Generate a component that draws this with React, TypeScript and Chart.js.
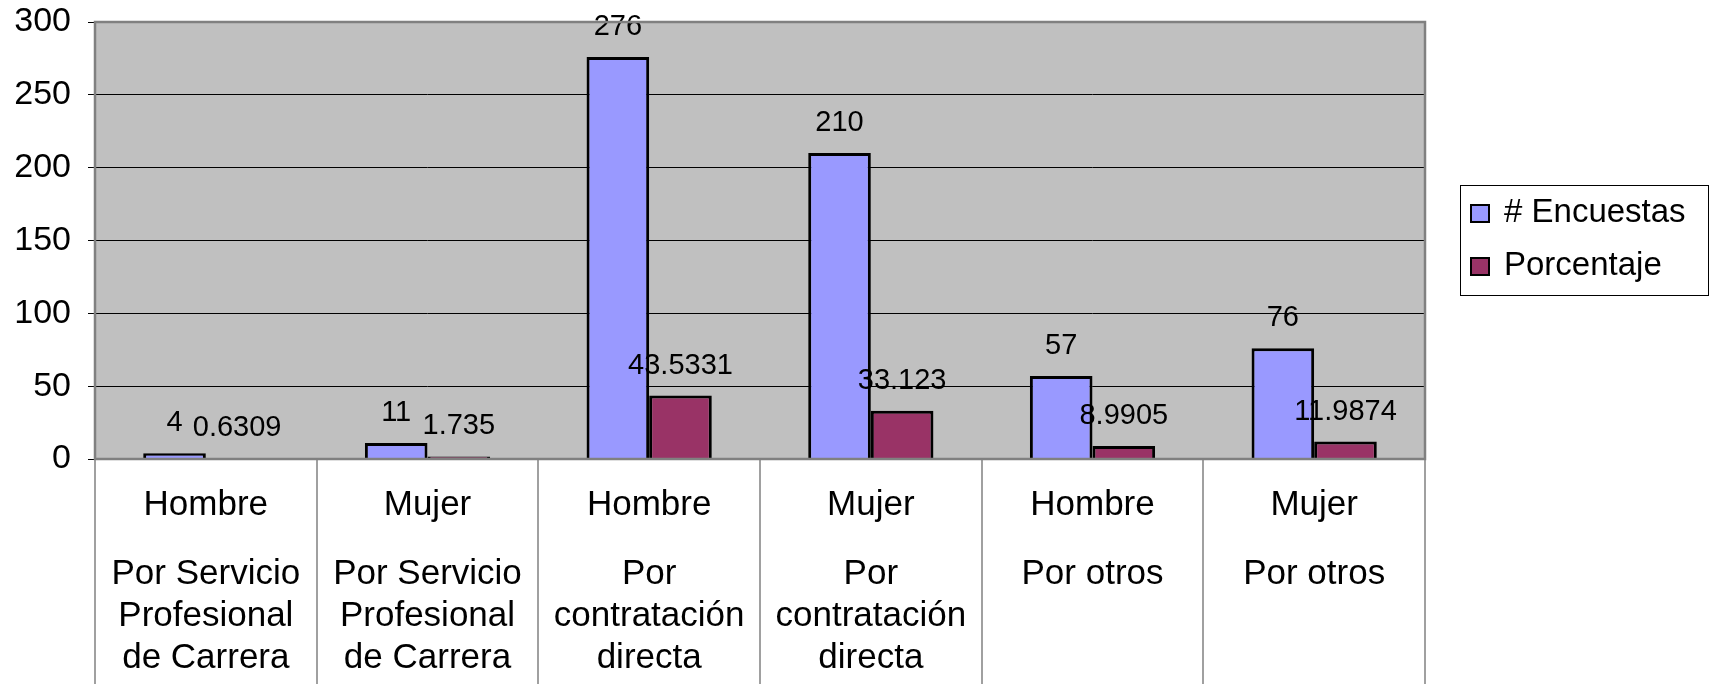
import React, { useEffect, useRef } from "react";
import { Chart, registerables } from "chart.js";

Chart.register(...registerables);

const genders = ["Hombre", "Mujer", "Hombre", "Mujer", "Hombre", "Mujer"];
const modalities = [
  ["Por Servicio", "Profesional", "de Carrera"],
  ["Por Servicio", "Profesional", "de Carrera"],
  ["Por", "contratación", "directa"],
  ["Por", "contratación", "directa"],
  ["Por otros"],
  ["Por otros"],
];
const encuestas = [4, 11, 276, 210, 57, 76];
const porcentaje = [0.6309, 1.735, 43.5331, 33.123, 8.9905, 11.9874];
const yTicks = [0, 50, 100, 150, 200, 250, 300];
const seriesNames = ["# Encuestas", "Porcentaje"];
const seriesColors = ["#9999FF", "#993366"];

const FONT = "'Liberation Sans', Arial, sans-serif";

const backgroundPlugin = {
  id: "plotBackground",
  beforeDraw(chart: any) {
    const { ctx, chartArea } = chart;
    ctx.save();
    ctx.fillStyle = "#C0C0C0";
    ctx.fillRect(chartArea.left, chartArea.top, chartArea.right - chartArea.left, chartArea.bottom - chartArea.top);
    ctx.restore();
  },
};

const dataLabelPlugin = {
  id: "dataLabels",
  afterDatasetsDraw(chart: any) {
    const { ctx } = chart;
    ctx.save();
    ctx.font = `29px ${FONT}`;
    ctx.fillStyle = "#000";
    ctx.textAlign = "center";
    ctx.textBaseline = "middle";
    chart.data.datasets.forEach((ds: any, di: number) => {
      const meta = chart.getDatasetMeta(di);
      meta.data.forEach((bar: any, i: number) => {
        ctx.fillText(String(ds.data[i]), bar.x, bar.y - 30);
      });
    });
    ctx.restore();
  },
};

const framePlugin = {
  id: "frame",
  afterDraw(chart: any) {
    const { ctx, chartArea } = chart;
    const xs = chart.scales.x;
    const h = chart.height;
    ctx.save();
    // category separators below the plot
    const n = xs.ticks.length;
    const step = n > 1 ? xs.getPixelForTick(1) - xs.getPixelForTick(0) : xs.width;
    ctx.strokeStyle = "#808080";
    ctx.lineWidth = 1.5;
    for (let k = 0; k <= n; k++) {
      const x = Math.round(xs.getPixelForTick(0) - step / 2 + k * step);
      ctx.beginPath();
      ctx.moveTo(x, chartArea.bottom);
      ctx.lineTo(x, h);
      ctx.stroke();
    }
    // plot border
    ctx.strokeStyle = "#808080";
    ctx.lineWidth = 2.5;
    ctx.strokeRect(chartArea.left, chartArea.top, chartArea.right - chartArea.left, chartArea.bottom - chartArea.top);

    // legend
    const lx = chartArea.right + 35;
    const ly = 185;
    const lw = 248;
    const lh = 110;
    ctx.strokeStyle = "#000";
    ctx.lineWidth = 1;
    ctx.strokeRect(lx + 0.5, ly + 0.5, lw, lh);
    ctx.font = `33px ${FONT}`;
    ctx.textAlign = "left";
    ctx.textBaseline = "middle";
    chart.data.datasets.forEach((ds: any, i: number) => {
      const cy = ly + 28 + i * 53;
      ctx.fillStyle = ds.backgroundColor;
      ctx.fillRect(lx + 11, cy - 8, 18, 17);
      ctx.strokeStyle = "#000";
      ctx.lineWidth = 2;
      ctx.strokeRect(lx + 11, cy - 8, 18, 17);
      ctx.fillStyle = "#000";
      ctx.fillText(ds.label, lx + 44, cy);
    });
    ctx.restore();
  },
};

export default function App() {
  const ref = useRef<HTMLCanvasElement | null>(null);
  useEffect(() => {
    if (!ref.current) return;
    const chart = new Chart(ref.current, {
      type: "bar",
      data: {
        labels: genders,
        datasets: [
          {
            label: seriesNames[0],
            data: encuestas,
            backgroundColor: seriesColors[0],
            borderColor: "#000",
            borderWidth: 3,
            xAxisID: "x",
            categoryPercentage: 0.565,
            barPercentage: 1,
          },
          {
            label: seriesNames[1],
            data: porcentaje,
            backgroundColor: seriesColors[1],
            borderColor: "#000",
            borderWidth: 3,
            xAxisID: "x",
            categoryPercentage: 0.565,
            barPercentage: 1,
          },
        ],
      },
      options: {
        responsive: false,
        animation: false,
        layout: { padding: { left: 0, right: 294, top: 22, bottom: 2 } },
        plugins: {
          legend: { display: false },
          tooltip: { enabled: false },
        },
        scales: {
          x: {
            type: "category",
            position: "bottom",
            offset: true,
            grid: { display: false, drawTicks: false, offset: true },
            border: { display: false },
            ticks: {
              color: "#000",
              padding: 27.5,
              maxRotation: 0,
              autoSkip: false,
              font: { family: FONT, size: 35, lineHeight: 37 / 35 },
            },
          },
          x2: {
            type: "category",
            axis: "x",
            position: "bottom",
            labels: modalities as any,
            offset: true,
            grid: { display: false, drawTicks: false, offset: true },
            border: { display: false },
            ticks: {
              color: "#000",
              padding: 2.5,
              maxRotation: 0,
              autoSkip: false,
              font: { family: FONT, size: 35, lineHeight: 42 / 35 },
            },
          },
          y: {
            min: 0,
            max: 300,
            afterBuildTicks: (s: any) => {
              s.ticks = yTicks.map((v) => ({ value: v }));
            },
            afterFit: (s: any) => {
              s.width = 95;
            },
            grid: { color: "#000", lineWidth: 1, tickLength: 7, tickColor: "#000" },
            border: { display: false },
            ticks: {
              color: "#000",
              padding: 17,
              font: { family: FONT, size: 34, lineHeight: 0.25 },
            },
          },
        },
      } as any,
      plugins: [backgroundPlugin, dataLabelPlugin, framePlugin],
    });
    return () => chart.destroy();
  }, []);
  return (
    <div style={{ position: "fixed", left: 0, top: 0, width: 1719, height: 684, background: "#fff" }}>
      <canvas ref={ref} width={1719} height={684} style={{ display: "block" }} />
    </div>
  );
}
